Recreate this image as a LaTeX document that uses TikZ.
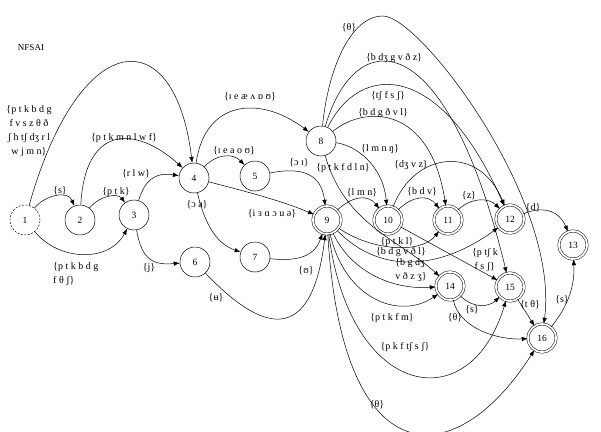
\documentclass[tikz,border=0pt]{standalone}
\usepackage{fontspec}
\setmainfont{Liberation Serif}
\usetikzlibrary{arrows.meta}
\begin{document}
\begin{tikzpicture}[x=1pt,y=-1pt,
  st/.style={circle,draw,line width=0.5pt,minimum size=30pt,inner sep=0pt,font=\fontsize{9.5}{10}\selectfont},
  fin/.style={circle,draw,line width=0.5pt,double,double distance=1.8pt,minimum size=28pt,inner sep=0pt,font=\fontsize{9.5}{10}\selectfont},
  lab/.style={font=\fontsize{10}{13.8}\selectfont,inner sep=0pt},
  edge/.style={draw,line width=0.5pt,-{Latex[length=6pt,width=4.5pt]}}]
\path[use as bounding box,fill=white] (0,0) rectangle (601,431);
\node[font=\fontsize{9}{10}\selectfont,inner sep=0pt] (title) at (31,48) {NFSAI};
% states
\node[st,dash pattern=on 2pt off 1.5pt] (n1) at (25,220) {1};
\node[st] (n2) at (80,220) {2};
\node[st] (n3) at (134,215) {3};
\node[st] (n4) at (194,178) {4};
\node[st] (n5) at (255,176) {5};
\node[st] (n6) at (195,262) {6};
\node[st] (n7) at (255,257) {7};
\node[st] (n8) at (321,141) {8};
\node[fin] (n9) at (327,220) {9};
\node[fin] (n10) at (388,220) {10};
\node[fin] (n11) at (448,220) {11};
\node[fin] (n12) at (510,219) {12};
\node[fin] (n13) at (573,245) {13};
\node[fin] (n14) at (450,286) {14};
\node[fin] (n15) at (510,287) {15};
\node[fin] (n16) at (542,338) {16};
% edges
\path[edge] (n1) .. controls (80,25) and (175,20) .. (n4);
\path[edge] (n1) .. controls (45,195) and (68,190) .. (n2);
\path[edge] (n2) .. controls (85,125) and (135,125) .. (n4);
\path[edge] (n2) .. controls (100,195) and (118,193) .. (n3);
\path[edge] (n3) .. controls (145,180) and (155,172) .. (n4);
\path[edge] (n1) .. controls (60,262) and (110,262) .. (n3);
\path[edge] (n3) .. controls (142,262) and (155,265) .. (n6);
\path[edge] (n4) .. controls (205,100) and (260,95) .. (n8);
\path[edge] (n4) .. controls (215,155) and (232,152) .. (n5);
\path[edge] (n4) .. controls (240,190) and (280,200) .. (n9);
\path[edge] (n4) .. controls (206,230) and (220,245) .. (n7);
\path[edge] (n5) .. controls (310,165) and (322,180) .. (n9);
\path[edge] (n7) .. controls (300,262) and (315,255) .. (n9);
\path[edge] (n6) .. controls (250,320) and (310,360) .. (n9);
\path[edge] (n8) .. controls (328,70) and (350,16) .. (383,16) .. controls (420,16) and (560,200) .. (n16);
\path[edge] (n8) .. controls (355,25) and (445,20) .. (n15);
\path[edge] (n8) .. controls (360,62) and (440,60) .. (n12);
\path[edge] (n8) .. controls (365,105) and (430,105) .. (n11);
\path[edge] (n8) .. controls (355,145) and (383,165) .. (n10);
\path[edge] (n8) .. controls (345,225) and (400,240) .. (n14);
\path[edge] (n9) .. controls (352,196) and (368,194) .. (n10);
\path[edge] (n10) .. controls (412,196) and (428,194) .. (n11);
\path[edge] (n11) .. controls (470,198) and (488,197) .. (n12);
\path[edge] (n12) .. controls (545,205) and (560,212) .. (n13);
\path[edge] (n10) .. controls (415,150) and (480,145) .. (n12);
\path[edge] (n10) -- (n15);
\path[edge] (n9) .. controls (370,250) and (420,255) .. (n11);
\path[edge] (n9) .. controls (380,275) and (440,270) .. (n12);
\path[edge] (n9) .. controls (350,270) and (390,290) .. (n14);
\path[edge] (n9) .. controls (345,300) and (400,320) .. (n14);
\path[edge] (n9) .. controls (350,400) and (470,420) .. (n15);
\path[edge] (n9) .. controls (342,478) and (455,475) .. (n16);
\path[edge] (n14) .. controls (475,310) and (490,306) .. (n15);
\path[edge] (n14) .. controls (460,330) and (500,340) .. (n16);
\path[edge] (n15) -- (n16);
\path[edge] (n16) .. controls (565,310) and (575,290) .. (n13);
% labels
\node[lab,align=center] (l14) at (29,131) {\{p t k b d g\\f v s z θ ð\\ʃ h tʃ dʒ r l\\w j m n\}};
\node[lab] (l12) at (60,191) {\{s\}};
\node[lab] (l24) at (124,138) {\{p t k m n l w f\}};
\node[lab] (l23) at (116,192) {\{p t k\}};
\node[lab] (l34) at (136,174) {\{r l w\}};
\node[lab,align=left,anchor=west] (l13) at (53,274) {\{p t k b d g\\f θ ʃ\}};
\node[lab] (l36) at (149,268) {\{j\}};
\node[lab] (l48) at (250,97) {\{ɪ e æ ʌ ɒ ʊ\}};
\node[lab] (l45) at (234,151) {\{ɪ e a o ʊ\}};
\node[lab] (l49) at (272,214) {\{i ɜ ɑ ɔ u ə\}};
\node[lab] (l47) at (197,205) {\{ɔ a\}};
\node[lab] (l59) at (299,163) {\{ɔ ɪ\}};
\node[lab] (l79) at (306,271) {\{ʊ\}};
\node[lab] (l69) at (216,298) {\{ʉ\}};
\node[lab] (l816) at (349,28) {\{θ\}};
\node[lab] (l815) at (394,58) {\{b dʒ g v ð z\}};
\node[lab] (l812) at (388,96) {\{tʃ f s ʃ\}};
\node[lab] (l811) at (383,113) {\{b d g ð v l\}};
\node[lab] (l810) at (380,149) {\{l m n ŋ\}};
\node[lab] (l814) at (343,168) {\{p t k f d l n\}};
\node[lab] (l910) at (362,193) {\{l m n\}};
\node[lab] (l1011) at (422,192) {\{b d v\}};
\node[lab] (l1012) at (411,165) {\{dʒ v z\}};
\node[lab] (l1112) at (469,196) {\{z\}};
\node[lab] (l1213) at (533,208) {\{d\}};
\node[lab,align=left] (l1015) at (485,260) {\{p tʃ k\\\ f s ʃ\}};
\node[lab] (l911) at (397,242) {\{p t k l\}};
\node[lab] (l912) at (401,252) {\{b d g v ð l\}};
\node[lab,align=left] (l914) at (411,270) {\{b g dʒ\\v ð z ʒ\}};
\node[lab] (l914b) at (392,318) {\{p t k f m\}};
\node[lab] (l915) at (405,347) {\{p k f tʃ s ʃ\}};
\node[lab] (l916) at (377,405) {\{θ\}};
\node[lab] (l1415) at (472,310) {\{s\}};
\node[lab] (l1416) at (455,318) {\{θ\}};
\node[lab] (l1516) at (530,305) {\{t θ\}};
\node[lab] (l1613) at (562,300) {\{s\}};
\end{tikzpicture}
\end{document}
